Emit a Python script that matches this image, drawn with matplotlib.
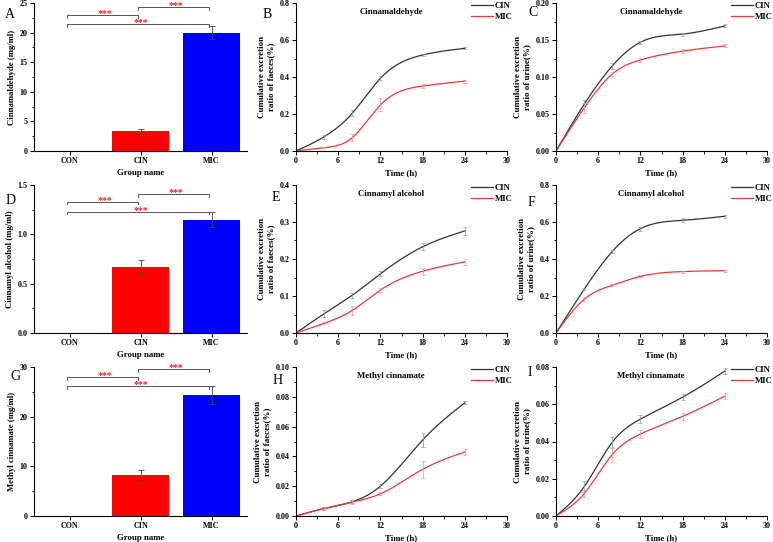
import numpy as np
import matplotlib
matplotlib.use("Agg")
import matplotlib.pyplot as plt
from matplotlib.ticker import MultipleLocator, AutoMinorLocator, FormatStrFormatter

plt.rcParams["font.family"] = ["Liberation Serif", "DejaVu Serif"]
plt.rcParams["font.weight"] = "bold"
plt.rcParams["axes.labelweight"] = "bold"

# ---- bar panel data (A, D, G) ----
groups = ["CON", "CIN", "MIC"]
bar_colors = ["#ff0000", "#ff0000", "#0000ff"]
ald_conc = [0.0, 3.3, 20.0]
ald_err = [0.0, 0.35, 1.1]
alc_conc = [0.0, 0.67, 1.15]
alc_err = [0.0, 0.07, 0.08]
mc_conc = [0.0, 8.2, 24.3]
mc_err = [0.0, 1.0, 1.8]

# ---- cumulative excretion data (B, C, E, F, H, I) ----
time_h = [0, 4, 8, 12, 18, 24]
ald_faeces_cin = [0, 0.077, 0.204, 0.393, 0.519, 0.555]
ald_faeces_cin_err = [0, 0.01, 0.015, 0.01, 0.006, 0.006]
ald_faeces_mic = [0, 0.018, 0.072, 0.249, 0.351, 0.378]
ald_faeces_mic_err = [0, 0.004, 0.02, 0.035, 0.012, 0.008]
ald_urine_cin = [0, 0.063, 0.115, 0.147, 0.158, 0.169]
ald_urine_cin_err = [0, 0.006, 0.004, 0.002, 0.002, 0.002]
ald_urine_mic = [0, 0.058, 0.104, 0.123, 0.135, 0.142]
ald_urine_mic_err = [0, 0.007, 0.003, 0.003, 0.003, 0.002]
alc_faeces_cin = [0, 0.052, 0.102, 0.160, 0.233, 0.276]
alc_faeces_cin_err = [0, 0.01, 0.007, 0.007, 0.009, 0.01]
alc_faeces_mic = [0, 0.026, 0.061, 0.116, 0.167, 0.192]
alc_faeces_mic_err = [0, 0.003, 0.012, 0.006, 0.01, 0.008]
alc_urine_cin = [0, 0.236, 0.441, 0.564, 0.609, 0.631]
alc_urine_cin_err = [0, 0.006, 0.006, 0.01, 0.01, 0.008]
alc_urine_mic = [0, 0.182, 0.258, 0.306, 0.332, 0.337]
alc_urine_mic_err = [0, 0.01, 0.005, 0.005, 0.005, 0.006]
mc_faeces_cin = [0, 0.005, 0.0095, 0.020, 0.051, 0.076]
mc_faeces_cin_err = [0, 0.0008, 0.001, 0.0015, 0.005, 0.001]
mc_faeces_mic = [0, 0.005, 0.0093, 0.0149, 0.0313, 0.043]
mc_faeces_mic_err = [0, 0.0008, 0.001, 0.001, 0.0055, 0.002]
mc_urine_cin = [0, 0.0157, 0.0396, 0.052, 0.0638, 0.0778]
mc_urine_cin_err = [0, 0.003, 0.003, 0.002, 0.0015, 0.0015]
mc_urine_mic = [0, 0.012, 0.033, 0.044, 0.0535, 0.0643]
mc_urine_mic_err = [0, 0.002, 0.004, 0.002, 0.002, 0.0015]

CIN_LINE = "#333333"
MIC_LINE = "#e8393a"
W, H = 773, 542


def px_axes(fig, left, top, right, bottom):
    return fig.add_axes([left / W, 1 - bottom / H, (right - left) / W, (bottom - top) / H])


def style_axes(ax):
    for s in ("top", "right"):
        ax.spines[s].set_visible(False)
    for s in ("left", "bottom"):
        ax.spines[s].set_linewidth(0.8)
    ax.tick_params(which="major", direction="out", length=3, width=0.7, labelsize=5.8, pad=1.5)
    ax.tick_params(which="minor", direction="out", length=1.8, width=0.6)


def spline(x, y, xs):
    # natural cubic spline, used only to draw the smooth connecting line
    x = np.asarray(x, float)
    y = np.asarray(y, float)
    n = len(x)
    h = np.diff(x)
    A = np.zeros((n, n))
    b = np.zeros(n)
    A[0, 0] = A[-1, -1] = 1
    for i in range(1, n - 1):
        A[i, i - 1] = h[i - 1]
        A[i, i] = 2 * (h[i - 1] + h[i])
        A[i, i + 1] = h[i]
        b[i] = 6 * ((y[i + 1] - y[i]) / h[i] - (y[i] - y[i - 1]) / h[i - 1])
    M = np.linalg.solve(A, b)
    idx = np.clip(np.searchsorted(x, xs) - 1, 0, n - 2)
    x0, x1 = x[idx], x[idx + 1]
    hh = h[idx]
    return (M[idx] * (x1 - xs) ** 3 / (6 * hh) + M[idx + 1] * (xs - x0) ** 3 / (6 * hh)
            + (y[idx] / hh - M[idx] * hh / 6) * (x1 - xs)
            + (y[idx + 1] / hh - M[idx + 1] * hh / 6) * (xs - x0))


def bar_panel(ax, values, errors, ylabel, ymax, ystep, brackets):
    x = np.arange(len(groups))
    ax.bar(x, values, width=0.8, color=bar_colors)
    ax.errorbar(x[1:], values[1:], yerr=errors[1:], fmt="none", ecolor="#444444",
                elinewidth=0.6, capsize=2, capthick=0.6)
    ax.set_xlim(-0.5, 2.5)
    ax.set_ylim(0, ymax)
    ax.set_xticks(x)
    ax.set_xticklabels(groups)
    ax.yaxis.set_major_locator(MultipleLocator(ystep))
    ax.yaxis.set_minor_locator(AutoMinorLocator(2))
    style_axes(ax)
    ax.tick_params(axis="x", which="minor", bottom=False)
    ax.set_xlabel("Group name", fontsize=6.3, labelpad=2.5)
    ax.set_ylabel(ylabel, fontsize=6.3, labelpad=3)
    tick = ymax * 0.018
    for (i, j, yb) in brackets:
        x1, x2 = i - 0.03, j - 0.03
        ax.plot([x1, x1, x2, x2], [yb - tick, yb, yb, yb - tick], color="#555555", lw=0.7,
                clip_on=False)
        ax.text((i + j) / 2, yb - ymax * 0.02, "***", color="#ff2020", fontsize=7,
                ha="center", va="bottom", fontweight="bold")


def line_panel(ax, title, ylabel, ymax, ystep, cin, cin_err, mic, mic_err):
    xs = np.linspace(0, 24, 200)
    ax.plot(xs, spline(time_h, cin, xs), color=CIN_LINE, lw=0.9, label="CIN")
    ax.plot(xs, spline(time_h, mic, xs), color=MIC_LINE, lw=0.9, label="MIC")
    ax.errorbar(time_h[1:], cin[1:], yerr=cin_err[1:], fmt="none", ecolor="#999999",
                elinewidth=0.5, capsize=1.5, capthick=0.5)
    ax.errorbar(time_h[1:], mic[1:], yerr=mic_err[1:], fmt="none", ecolor="#e79a9a",
                elinewidth=0.5, capsize=1.5, capthick=0.5)
    ax.set_xlim(0, 30)
    ax.set_ylim(0, ymax)
    ax.xaxis.set_major_locator(MultipleLocator(6))
    ax.xaxis.set_minor_locator(AutoMinorLocator(2))
    ax.yaxis.set_major_locator(MultipleLocator(ystep))
    ax.yaxis.set_minor_locator(AutoMinorLocator(2))
    style_axes(ax)
    ax.set_xlabel("Time (h)", fontsize=6.3, labelpad=2.5)
    ax.set_ylabel(ylabel, fontsize=6.5, labelpad=3, linespacing=1.3)
    ax.text(0.45, 0.965, title, transform=ax.transAxes, ha="center", va="top",
            fontsize=6.3, fontweight="bold")
    ax.legend(loc="upper right", bbox_to_anchor=(1.045, 1.03), frameon=False, fontsize=6.3,
              handlelength=2.6, handletextpad=0.2, labelspacing=0.35, borderaxespad=0)


fig = plt.figure(figsize=(W / 100, H / 100), dpi=100)

cols = [(34, 247), (296, 507), (556, 767)]
rows = [(3, 151), (185, 333), (367, 516)]

faeces_label = "Cumulative excretion\nratio of faeces(%)"
urine_label = "Cumulative excretion\nratio of urine(%)"

axA = px_axes(fig, cols[0][0], rows[0][0], cols[0][1], rows[0][1])
bar_panel(axA, ald_conc, ald_err, "Cinnamaldehyde (mg/ml)", 25, 5,
          [(0, 1, 23.0), (1, 2, 24.3), (0, 2, 21.4)])
axD = px_axes(fig, cols[0][0], rows[1][0], cols[0][1], rows[1][1])
bar_panel(axD, alc_conc, alc_err, "Cinnamyl alcohol (mg/ml)", 1.5, 0.5,
          [(0, 1, 1.33), (1, 2, 1.405), (0, 2, 1.23)])
axG = px_axes(fig, cols[0][0], rows[2][0], cols[0][1], rows[2][1])
bar_panel(axG, mc_conc, mc_err, "Methyl cinnamate (mg/ml)", 30, 10,
          [(0, 1, 28.0), (1, 2, 29.5), (0, 2, 26.2)])

axB = px_axes(fig, cols[1][0], rows[0][0], cols[1][1], rows[0][1])
line_panel(axB, "Cinnamaldehyde", faeces_label, 0.8, 0.2,
           ald_faeces_cin, ald_faeces_cin_err, ald_faeces_mic, ald_faeces_mic_err)
axC = px_axes(fig, cols[2][0], rows[0][0], cols[2][1], rows[0][1])
line_panel(axC, "Cinnamaldehyde", urine_label, 0.20, 0.05,
           ald_urine_cin, ald_urine_cin_err, ald_urine_mic, ald_urine_mic_err)
axE = px_axes(fig, cols[1][0], rows[1][0], cols[1][1], rows[1][1])
line_panel(axE, "Cinnamyl alcohol", faeces_label, 0.4, 0.1,
           alc_faeces_cin, alc_faeces_cin_err, alc_faeces_mic, alc_faeces_mic_err)
axF = px_axes(fig, cols[2][0], rows[1][0], cols[2][1], rows[1][1])
line_panel(axF, "Cinnamyl alcohol", urine_label, 0.8, 0.2,
           alc_urine_cin, alc_urine_cin_err, alc_urine_mic, alc_urine_mic_err)
axH = px_axes(fig, cols[1][0], rows[2][0], cols[1][1], rows[2][1])
line_panel(axH, "Methyl cinnamate", faeces_label, 0.10, 0.02,
           mc_faeces_cin, mc_faeces_cin_err, mc_faeces_mic, mc_faeces_mic_err)
axI = px_axes(fig, cols[2][0], rows[2][0], cols[2][1], rows[2][1])
line_panel(axI, "Methyl cinnamate", urine_label, 0.08, 0.02,
           mc_urine_cin, mc_urine_cin_err, mc_urine_mic, mc_urine_mic_err)

for ax in (axC, axH, axI):
    ax.yaxis.set_major_formatter(FormatStrFormatter("%.2f"))
for ax in (axB, axE, axF, axD):
    ax.yaxis.set_major_formatter(FormatStrFormatter("%.1f"))

letters = [("A", 5, 15), ("B", 263, 14), ("C", 528, 13),
           ("D", 6, 200), ("E", 272, 197), ("F", 528, 202),
           ("G", 10, 377), ("H", 273, 380), ("I", 528, 372)]
for txt, lx, ly in letters:
    fig.text(lx / W, 1 - ly / H, txt, fontsize=10, fontweight="normal",
             ha="left", va="center")

fig.savefig("out.png", dpi=100)
